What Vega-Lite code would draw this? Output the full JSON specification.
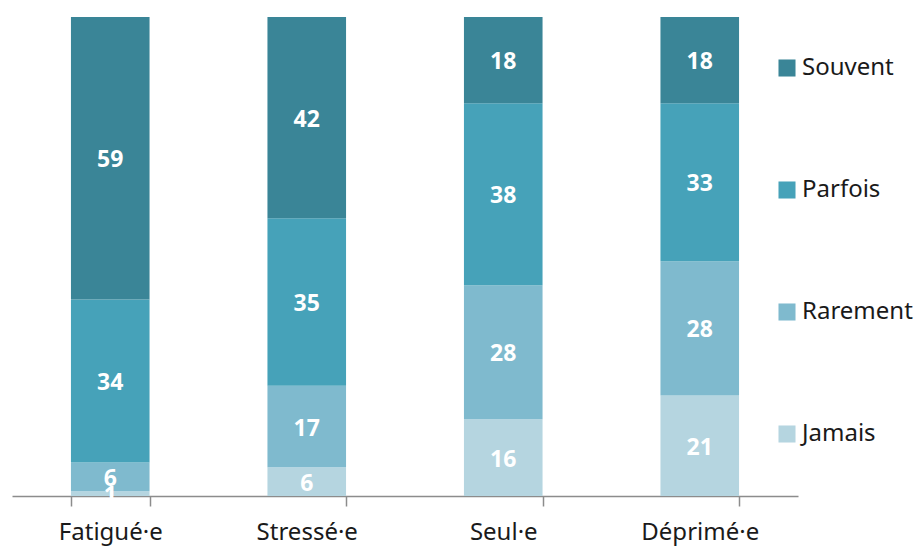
{
  "$schema": "https://vega.github.io/schema/vega-lite/v6.json",
  "autosize": "none",
  "width": 786,
  "height": 479,
  "padding": {"left": 12, "top": 17, "right": 120, "bottom": 50},
  "background": "white",
  "config": {"view": {"stroke": null}, "font": "Noto Sans"},
  "data": {
    "values": [
      {"cat": "Fatigué·e", "rep": "Jamais", "ord": 1, "val": 1},
      {"cat": "Fatigué·e", "rep": "Rarement", "ord": 2, "val": 6},
      {"cat": "Fatigué·e", "rep": "Parfois", "ord": 3, "val": 34},
      {"cat": "Fatigué·e", "rep": "Souvent", "ord": 4, "val": 59},
      {"cat": "Stressé·e", "rep": "Jamais", "ord": 1, "val": 6},
      {"cat": "Stressé·e", "rep": "Rarement", "ord": 2, "val": 17},
      {"cat": "Stressé·e", "rep": "Parfois", "ord": 3, "val": 35},
      {"cat": "Stressé·e", "rep": "Souvent", "ord": 4, "val": 42},
      {"cat": "Seul·e", "rep": "Jamais", "ord": 1, "val": 16},
      {"cat": "Seul·e", "rep": "Rarement", "ord": 2, "val": 28},
      {"cat": "Seul·e", "rep": "Parfois", "ord": 3, "val": 38},
      {"cat": "Seul·e", "rep": "Souvent", "ord": 4, "val": 18},
      {"cat": "Déprimé·e", "rep": "Jamais", "ord": 1, "val": 21},
      {"cat": "Déprimé·e", "rep": "Rarement", "ord": 2, "val": 28},
      {"cat": "Déprimé·e", "rep": "Parfois", "ord": 3, "val": 33},
      {"cat": "Déprimé·e", "rep": "Souvent", "ord": 4, "val": 18}
    ]
  },
  "encoding": {
    "x": {
      "field": "cat",
      "type": "nominal",
      "sort": null,
      "title": null,
      "scale": {"paddingInner": 0.6, "paddingOuter": 0.3},
      "axis": {
        "labelAngle": 0,
        "labelFontSize": 24,
        "labelColor": "#1a1a1a",
        "labelPadding": 14,
        "tickBand": "extent",
        "tickSize": 10,
        "tickColor": "#8c8c8c",
        "domainColor": "#8c8c8c",
        "tickWidth": 1.5,
        "domainWidth": 1.5
      }
    },
    "y": {
      "field": "val",
      "type": "quantitative",
      "stack": "zero",
      "scale": {"domain": [0, 100], "nice": false},
      "axis": null
    },
    "order": {"field": "ord", "type": "quantitative"}
  },
  "layer": [
    {
      "mark": {"type": "bar"},
      "encoding": {
        "color": {
          "field": "rep",
          "type": "nominal",
          "scale": {
            "domain": ["Souvent", "Parfois", "Rarement", "Jamais"],
            "range": ["#3a8597", "#46a2b9", "#7fbace", "#b5d5e0"]
          },
          "legend": {
            "title": null,
            "orient": "none",
            "legendX": 763,
            "legendY": 39,
            "symbolType": "square",
            "symbolSize": 290,
            "labelFontSize": 24,
            "labelColor": "#1a1a1a",
            "rowPadding": 98,
            "labelOffset": 3
          }
        }
      }
    },
    {
      "mark": {"type": "text", "color": "white", "fontWeight": "bold", "fontSize": 23, "baseline": "middle", "dy": 2},
      "encoding": {
        "y": {"field": "val", "type": "quantitative", "stack": "zero", "bandPosition": 0.5},
        "text": {"field": "val", "type": "quantitative"}
      }
    }
  ]
}
